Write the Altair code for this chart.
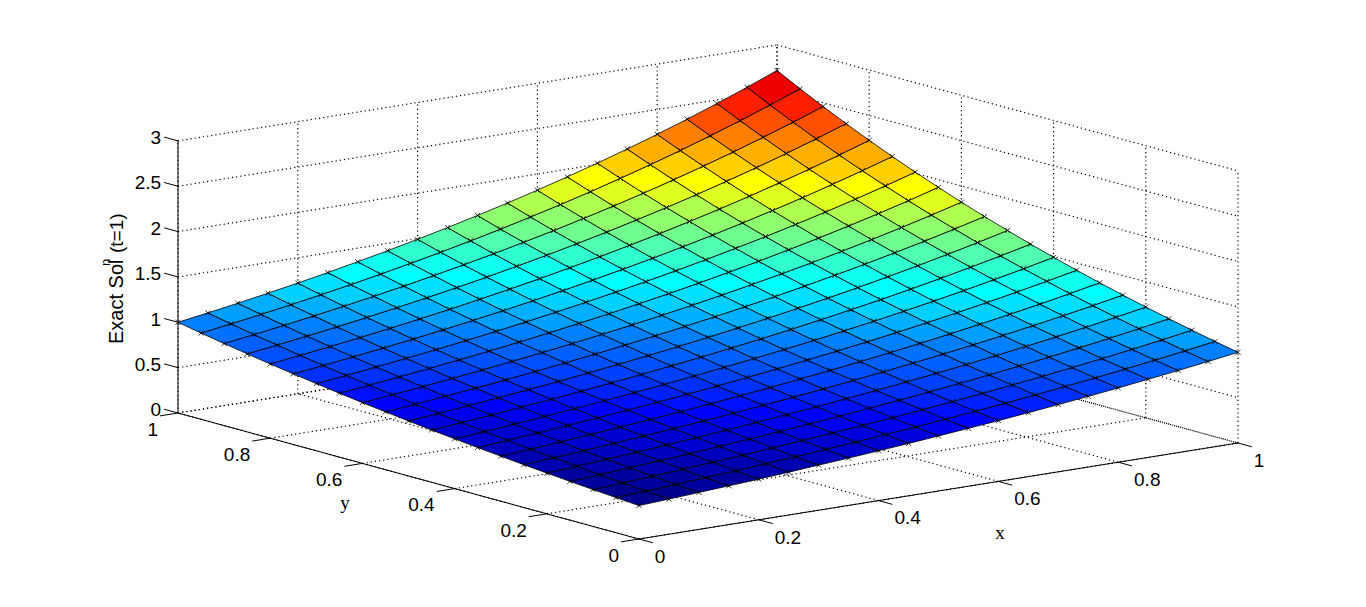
import altair as alt
import pandas as pd

# ---- data ----
mesh_x = [0.0, 0.05, 0.1, 0.15, 0.2, 0.25, 0.3, 0.35, 0.4, 0.45, 0.5, 0.55, 0.6, 0.65, 0.7, 0.75, 0.8, 0.85, 0.9, 0.95, 1.0]
mesh_y = [0.0, 0.05, 0.1, 0.15, 0.2, 0.25, 0.3, 0.35, 0.4, 0.45, 0.5, 0.55, 0.6, 0.65, 0.7, 0.75, 0.8, 0.85, 0.9, 0.95, 1.0]
# surface heights: one row per y, one column per x
z_rows = [
    [.368,.387,.407,.427,.449,.472,.497,.522,.549,.577,.607,.638,.670,.705,.741,.779,.819,.861,.905,.951,1.000],
    [.387,.407,.427,.449,.472,.497,.522,.549,.577,.607,.638,.670,.705,.741,.779,.819,.861,.905,.951,1.000,1.051],
    [.407,.427,.449,.472,.497,.522,.549,.577,.607,.638,.670,.705,.741,.779,.819,.861,.905,.951,1.000,1.051,1.105],
    [.427,.449,.472,.497,.522,.549,.577,.607,.638,.670,.705,.741,.779,.819,.861,.905,.951,1.000,1.051,1.105,1.162],
    [.449,.472,.497,.522,.549,.577,.607,.638,.670,.705,.741,.779,.819,.861,.905,.951,1.000,1.051,1.105,1.162,1.221],
    [.472,.497,.522,.549,.577,.607,.638,.670,.705,.741,.779,.819,.861,.905,.951,1.000,1.051,1.105,1.162,1.221,1.284],
    [.497,.522,.549,.577,.607,.638,.670,.705,.741,.779,.819,.861,.905,.951,1.000,1.051,1.105,1.162,1.221,1.284,1.350],
    [.522,.549,.577,.607,.638,.670,.705,.741,.779,.819,.861,.905,.951,1.000,1.051,1.105,1.162,1.221,1.284,1.350,1.419],
    [.549,.577,.607,.638,.670,.705,.741,.779,.819,.861,.905,.951,1.000,1.051,1.105,1.162,1.221,1.284,1.350,1.419,1.492],
    [.577,.607,.638,.670,.705,.741,.779,.819,.861,.905,.951,1.000,1.051,1.105,1.162,1.221,1.284,1.350,1.419,1.492,1.568],
    [.607,.638,.670,.705,.741,.779,.819,.861,.905,.951,1.000,1.051,1.105,1.162,1.221,1.284,1.350,1.419,1.492,1.568,1.649],
    [.638,.670,.705,.741,.779,.819,.861,.905,.951,1.000,1.051,1.105,1.162,1.221,1.284,1.350,1.419,1.492,1.568,1.649,1.733],
    [.670,.705,.741,.779,.819,.861,.905,.951,1.000,1.051,1.105,1.162,1.221,1.284,1.350,1.419,1.492,1.568,1.649,1.733,1.822],
    [.705,.741,.779,.819,.861,.905,.951,1.000,1.051,1.105,1.162,1.221,1.284,1.350,1.419,1.492,1.568,1.649,1.733,1.822,1.916],
    [.741,.779,.819,.861,.905,.951,1.000,1.051,1.105,1.162,1.221,1.284,1.350,1.419,1.492,1.568,1.649,1.733,1.822,1.916,2.014],
    [.779,.819,.861,.905,.951,1.000,1.051,1.105,1.162,1.221,1.284,1.350,1.419,1.492,1.568,1.649,1.733,1.822,1.916,2.014,2.117],
    [.819,.861,.905,.951,1.000,1.051,1.105,1.162,1.221,1.284,1.350,1.419,1.492,1.568,1.649,1.733,1.822,1.916,2.014,2.117,2.226],
    [.861,.905,.951,1.000,1.051,1.105,1.162,1.221,1.284,1.350,1.419,1.492,1.568,1.649,1.733,1.822,1.916,2.014,2.117,2.226,2.340],
    [.905,.951,1.000,1.051,1.105,1.162,1.221,1.284,1.350,1.419,1.492,1.568,1.649,1.733,1.822,1.916,2.014,2.117,2.226,2.340,2.460],
    [.951,1.000,1.051,1.105,1.162,1.221,1.284,1.350,1.419,1.492,1.568,1.649,1.733,1.822,1.916,2.014,2.117,2.226,2.340,2.460,2.586],
    [1.000,1.051,1.105,1.162,1.221,1.284,1.350,1.419,1.492,1.568,1.649,1.733,1.822,1.916,2.014,2.117,2.226,2.340,2.460,2.586,2.718],
]
x_ticks = [0, 0.2, 0.4, 0.6, 0.8, 1]
y_ticks = [0, 0.2, 0.4, 0.6, 0.8, 1]
z_ticks = [0, 0.5, 1, 1.5, 2, 2.5, 3]
x_labels = ["0", "0.2", "0.4", "0.6", "0.8", "1"]
y_labels = ["0", "0.2", "0.4", "0.6", "0.8", "1"]
z_labels = ["0", "0.5", "1", "1.5", "2", "2.5", "3"]


# ---- orthographic view of the 3-D box (no 3-D in Vega-Lite) ----
ORIGIN = (639.0, 539.0)
EX = (599.0, -96.0)
EY = (-461.0, -126.0)
EZ = (0.0, -90.7)
TICK = 0.03


def project(x, y, z):
    return (ORIGIN[0] + x * EX[0] + y * EY[0] + z * EZ[0],
            ORIGIN[1] + x * EX[1] + y * EY[1] + z * EZ[1])


def segment(p, q):
    a, b = project(*p), project(*q)
    return {"x": a[0], "y": a[1], "x2": b[0], "y2": b[1]}


# jet(64)
def jet(n=64):
    out = []
    clamp = lambda v: max(0.0, min(1.0, v))
    for i in range(n):
        r = clamp((i - 23) / 16) if i <= 55 else 1 - (i - 55) / 16
        g = clamp(min((i - 7) / 16, (55 - i) / 16))
        b = clamp(min(0.5625 + i / 16, (39 - i) / 16))
        out.append("#%02x%02x%02x" % (round(r * 255), round(g * 255), round(b * 255)))
    return out


zmin, zmax = z_rows[0][0], z_rows[-1][-1]

# surface cells; the colour comes from the cell's low-x, low-y corner
features = []
for j in range(len(mesh_y) - 1):
    for i in range(len(mesh_x) - 1):
        corners = [(i, j), (i + 1, j), (i + 1, j + 1), (i, j + 1), (i, j)]
        ring = [list(project(mesh_x[a], mesh_y[b], z_rows[b][a])) for a, b in corners]
        features.append({"type": "Feature", "properties": {"z": z_rows[j][i]},
                         "geometry": {"type": "Polygon", "coordinates": [ring]}})

nodes = pd.DataFrame([
    dict(zip(("x", "y"), project(mesh_x[i], mesh_y[j], z_rows[j][i])))
    for j in range(len(mesh_y)) for i in range(len(mesh_x))
])

# dotted box grid
dotted = []
for z in z_ticks:
    dotted.append(segment((0, 1, z), (1, 1, z)))
    dotted.append(segment((1, 1, z), (1, 0, z)))
for x in x_ticks:
    dotted.append(segment((x, 1, 0), (x, 1, z_ticks[-1])))
    dotted.append(segment((x, 0, 0), (x, 1, 0)))
for y in y_ticks:
    dotted.append(segment((1, y, 0), (1, y, z_ticks[-1])))
    dotted.append(segment((0, y, 0), (1, y, 0)))
dotted = pd.DataFrame(dotted)

# solid axes and tick marks
solid = [segment((0, 1, 0), (0, 1, z_ticks[-1])), segment((0, 0, 0), (1, 0, 0)), segment((0, 0, 0), (0, 1, 0))]
for x in x_ticks:
    solid.append(segment((x, 0, 0), (x, -TICK, 0)))
for y in y_ticks:
    solid.append(segment((0, y, 0), (-TICK, y, 0)))
for z in z_ticks:
    solid.append(segment((0, 1, z), (0, 1 + TICK, z)))
solid = pd.DataFrame(solid)


def labels(vals, names, pt, dx, dy):
    rows = []
    for v, n in zip(vals, names):
        px, py = project(*pt(v))
        rows.append({"x": px + dx, "y": py + dy, "t": n})
    return pd.DataFrame(rows)


x_lab = labels(x_ticks, x_labels, lambda v: (v, -TICK, 0), 2, 14)
y_lab = labels(y_ticks, y_labels, lambda v: (-TICK, v, 0), -2, 14)
z_lab = labels(z_ticks, z_labels, lambda v: (0, 1 + TICK, v), -3, 1)

X = alt.X("x:Q", scale=alt.Scale(domain=[8, 1358], nice=False, zero=False), axis=None)
Y = alt.Y("y:Q", scale=alt.Scale(domain=[599, 8], nice=False, zero=False), axis=None)
X2 = alt.X2("x2:Q")
Y2 = alt.Y2("y2:Q")
TXT = alt.Text("t:N")
SANS = "Liberation Sans"
SERIF = "Liberation Serif"

grid = alt.Chart(dotted).mark_rule(color="black", strokeWidth=1.2, strokeDash=[1.2, 3]).encode(x=X, y=Y, x2=X2, y2=Y2)
axes = alt.Chart(solid).mark_rule(color="black", strokeWidth=1).encode(x=X, y=Y, x2=X2, y2=Y2)

surface = alt.Chart(alt.Data(values={"type": "FeatureCollection", "features": features},
                             format=alt.DataFormat(property="features", type="json"))
                    ).mark_geoshape(stroke="black", strokeWidth=0.8).encode(
    color=alt.Color("properties.z:Q", legend=None,
                    scale=alt.Scale(type="quantize", domain=[zmin, zmax], range=jet(), nice=False, zero=False))
).project(type="identity", scale=1, translate=[-8, -8])

markers = alt.Chart(nodes).mark_point(shape="M-1,-1L1,1M-1,1L1,-1", size=25, stroke="black",
                                      strokeWidth=0.8, filled=False, opacity=1).encode(x=X, y=Y)

xt = alt.Chart(x_lab).mark_text(font=SANS, fontSize=19, align="left", baseline="middle").encode(x=X, y=Y, text=TXT)
yt = alt.Chart(y_lab).mark_text(font=SANS, fontSize=19, align="right", baseline="middle").encode(x=X, y=Y, text=TXT)
zt = alt.Chart(z_lab).mark_text(font=SANS, fontSize=19, align="right", baseline="middle").encode(x=X, y=Y, text=TXT)

xname = alt.Chart(pd.DataFrame({"x": [1000], "y": [533], "t": ["x"]})).mark_text(
    font=SERIF, fontSize=19, align="center", baseline="middle").encode(x=X, y=Y, text=TXT)
yname = alt.Chart(pd.DataFrame({"x": [345], "y": [503], "t": ["y"]})).mark_text(
    font=SERIF, fontSize=19, align="center", baseline="middle").encode(x=X, y=Y, text=TXT)

ztitle_a = alt.Chart(pd.DataFrame({"x": [123], "y": [344], "t": ["Exact Sol"]})).mark_text(
    font=SANS, fontSize=20, angle=270, align="left", baseline="alphabetic").encode(x=X, y=Y, text=TXT)
ztitle_n = alt.Chart(pd.DataFrame({"x": [110], "y": [266], "t": ["n"]})).mark_text(
    font=SANS, fontSize=13, angle=270, align="left", baseline="alphabetic").encode(x=X, y=Y, text=TXT)
ztitle_b = alt.Chart(pd.DataFrame({"x": [123], "y": [253], "t": ["(t=1)"]})).mark_text(
    font=SANS, fontSize=19, angle=270, align="left", baseline="alphabetic").encode(x=X, y=Y, text=TXT)

chart = alt.layer(grid, surface, markers, axes, xt, yt, zt, xname, yname, ztitle_a, ztitle_n, ztitle_b).properties(
    width=1350, height=591, padding=0, autosize=alt.AutoSizeParams(type="none"),
    background="white"
).configure_view(stroke=None)

chart.save("out.html", embed_options={"renderer": "svg", "actions": False})
